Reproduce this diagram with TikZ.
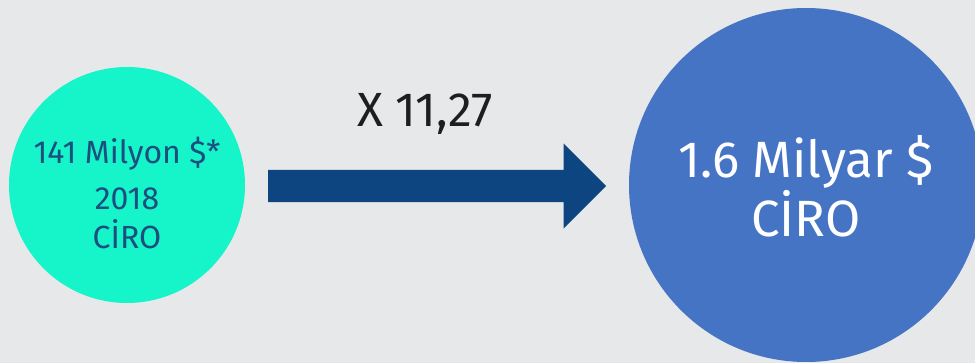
\documentclass[tikz,border=0pt]{standalone}
\usepackage{fontspec}
\setmainfont{Fira Sans}
\usetikzlibrary{shapes.arrows, positioning}
\definecolor{bgGray}{HTML}{E7E8EA}
\definecolor{turq}{HTML}{16F4C9}
\definecolor{navyText}{HTML}{1C4E7E}
\definecolor{arrowBlue}{HTML}{0C4580}
\definecolor{ciroBlue}{HTML}{4674C4}
\definecolor{labelDark}{HTML}{1E1E1E}

\begin{document}
\begin{tikzpicture}[x=1pt, y=-1pt,
			bubble/.style={circle, inner sep=0pt, draw=none},
			bubbletext/.style={anchor=base, align=center, inner sep=0pt},
			bigarrow/.style={single arrow, fill=arrowBlue, inner xsep=0pt, inner ysep=16pt,
				minimum height=338pt, minimum width=85pt, single arrow head extend=26.5pt,
				single arrow tip angle=90, anchor=tail}
			]
			
			% Fond
			\fill[bgGray] (0,0) rectangle (975,363);
			\useasboundingbox (0,0) rectangle (975,363);
			\clip (0,0) rectangle (975,363);
			
			% Chiffre 2018
			\node[bubble, fill=turq, minimum size=236pt] (old) at (127,185) {};
			\node[bubbletext, text=navyText, font=\fontsize{32}{39}\selectfont] (oldtxt) at (127,249)
				{141 Milyon \$*\\[7pt]2018\\CİRO};
			
			% Chiffre cible
			\node[bubble, fill=ciroBlue, minimum size=354pt] (new) at (806,185) {};
			\node[bubbletext, text=white, font=\fontsize{51}{59}\selectfont] (newtxt) at (806,237)
				{1.6 Milyar \$\\CİRO};
			
			% Flèche
			\node[bigarrow] (growth) at (268,186) {};
			\node[anchor=base, inner sep=0pt, text=labelDark, font=\fontsize{48}{56}\selectfont] (factor) at (425,127) {X 11,27};
			
		\end{tikzpicture}
\end{document}
